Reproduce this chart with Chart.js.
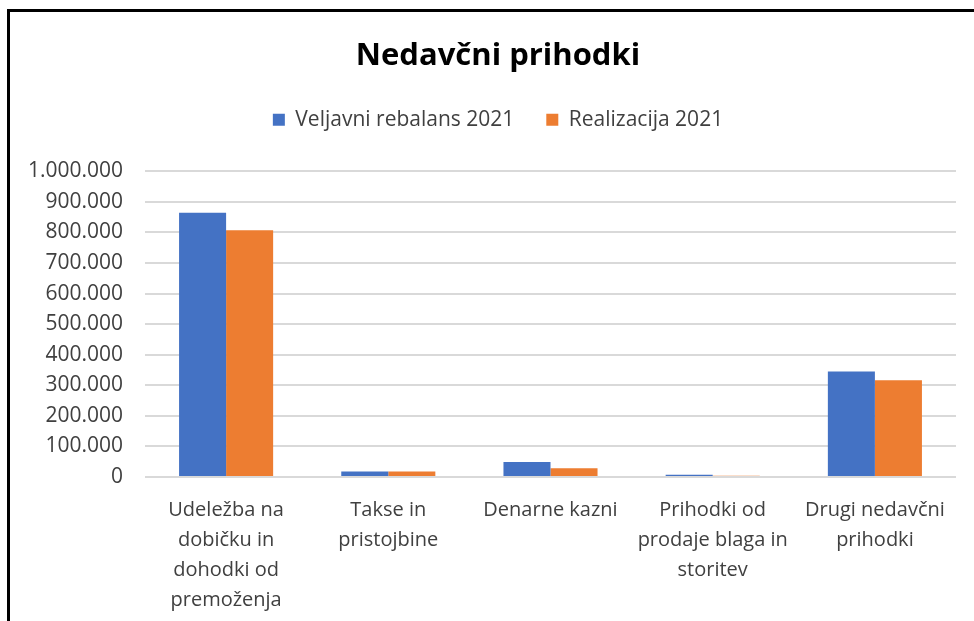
<!DOCTYPE html>
<html>
<head>
<meta charset="utf-8">
<script src="https://cdn.jsdelivr.net/npm/chart.js@4"></script>
<style>
    html, body { margin: 0; padding: 0; background: #fff; overflow: hidden; }
    #frame {
        position: absolute; left: 7px; top: 9px;
        width: 1000px; height: 700px;
        border: 3px solid #000; box-sizing: border-box;
    }
    #wrap { position: absolute; left: 0; top: 0; width: 974px; height: 621px; }
</style>
</head>
<body>
<div id="frame"></div>
<div id="wrap"><canvas id="bar-chart"></canvas></div>
<script>
const categories = [
    ['Udeležba na', 'dobičku in', 'dohodki od', 'premoženja'],
    ['Takse in', 'pristojbine'],
    ['Denarne kazni'],
    ['Prihodki od', 'prodaje blaga in', 'storitev'],
    ['Drugi nedavčni', 'prihodki'],
];
const seriesNames = ['Veljavni rebalans 2021', 'Realizacija 2021'];
const rebalans = [864000, 18000, 49000, 7500, 345000];
const realizacija = [807000, 18000, 29000, 4000, 316000];
const yMax = 1000000;
const yStep = 100000;

const FONT = '"Open Sans", "Noto Sans", sans-serif';

function formatNumber(v) {
    return String(v).replace(/\B(?=(\d{3})+(?!\d))/g, '.');
}

// empty layout box, only there to take up space
function emptyBox(position, weight, fullSize, size) {
    const horizontal = position === 'top' || position === 'bottom';
    return {
        position: position,
        weight: weight,
        fullSize: fullSize,
        options: {},
        width: 0,
        height: 0,
        isHorizontal: () => horizontal,
        update(maxWidth, maxHeight) {
            this.width = horizontal ? maxWidth : size;
            this.height = horizontal ? size : maxHeight;
        },
        draw() {},
    };
}

const spacer = {
    id: 'spacer',
    beforeInit(chart) {
        // below the legend
        Chart.layouts.addBox(chart, emptyBox('top', 500, true, 31));
        // right of the plot, so the title stays centred
        Chart.layouts.addBox(chart, emptyBox('right', 500, false, 18));
    },
};

const canva = document.getElementById('bar-chart');

const data = {
    labels: categories,
    datasets: [
        {
            label: seriesNames[0],
            backgroundColor: '#4472C4',
            data: rebalans,
        },
        {
            label: seriesNames[1],
            backgroundColor: '#ED7D31',
            data: realizacija,
        },
    ],
};

const myChart = new Chart(canva, {
    type: 'bar',
    data: data,
    plugins: [spacer],
    options: {
        responsive: true,
        maintainAspectRatio: false,
        animation: false,
        layout: { padding: { left: 22, right: 0, top: 0, bottom: 0 } },
        datasets: {
            bar: { barPercentage: 1, categoryPercentage: 0.58 },
        },
        plugins: {
            title: {
                display: true,
                text: 'Nedavčni prihodki',
                color: '#000',
                font: { family: FONT, size: 31, weight: 'bold' },
                padding: { top: 38, bottom: 2 },
            },
            legend: {
                labels: {
                    color: '#404040',
                    font: { family: FONT, size: 21 },
                    boxWidth: 12,
                    boxHeight: 12,
                    padding: 32,
                },
            },
            tooltip: { enabled: false },
        },
        scales: {
            x: {
                grid: { display: false },
                border: { display: false },
                ticks: {
                    color: '#404040',
                    font: { family: FONT, size: 20, lineHeight: 1.5 },
                    maxRotation: 0,
                    autoSkip: false,
                    padding: 10,
                },
                afterFit: (axis) => { axis.height = 144; },
            },
            y: {
                min: 0,
                max: yMax,
                grid: { color: '#D9D9D9', lineWidth: 2, drawTicks: false },
                border: { display: false },
                ticks: {
                    stepSize: yStep,
                    color: '#404040',
                    font: { family: FONT, size: 21 },
                    padding: 22,
                    callback: (value) => formatNumber(value),
                },
                afterFit: (axis) => { axis.width = 123; },
            },
        },
    },
});
</script>
</body>
</html>
